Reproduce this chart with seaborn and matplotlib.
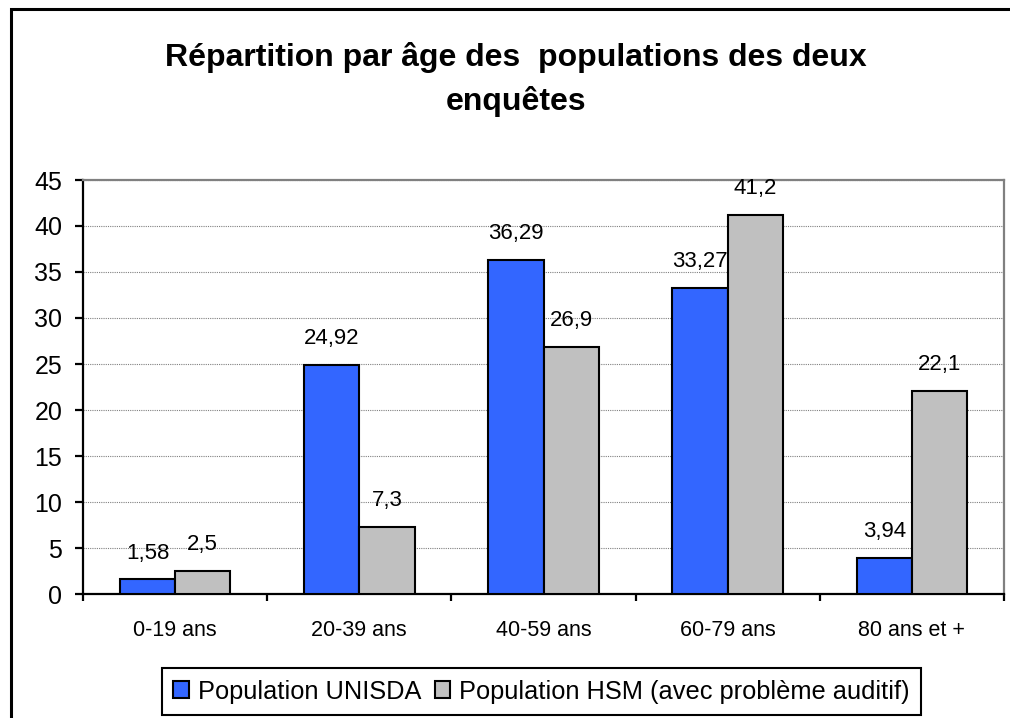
import matplotlib
matplotlib.use("Agg")
import matplotlib.pyplot as plt
import seaborn as sns
import pandas as pd
from matplotlib.patches import Rectangle
from matplotlib.ticker import FixedLocator

categories = ["0-19 ans", "20-39 ans", "40-59 ans", "60-79 ans", "80 ans et +"]
unisda = [1.58, 24.92, 36.29, 33.27, 3.94]
hsm = [2.5, 7.3, 26.9, 41.2, 22.1]
series_names = ["Population UNISDA", "Population HSM (avec problème auditif)"]
title = "Répartition par âge des  populations des deux\nenquêtes"

df = pd.DataFrame({
    "Age": categories * 2,
    "Valeur": unisda + hsm,
    "Population": [series_names[0]] * len(categories) + [series_names[1]] * len(categories),
})

sns.set_theme(style="white")
plt.rcParams["font.family"] = ["Liberation Sans", "DejaVu Sans"]
plt.rcParams["text.color"] = "black"
plt.rcParams["xtick.color"] = "black"
plt.rcParams["ytick.color"] = "black"
plt.rcParams["axes.labelcolor"] = "black"

fig = plt.figure(figsize=(10.10, 7.18), dpi=100)
ax = fig.add_axes([83 / 1010, (718 - 594) / 718, (1004 - 83) / 1010, (594 - 180) / 718])

sns.barplot(data=df, x="Age", y="Valeur", hue="Population",
            palette=["#3366FF", "#C0C0C0"], saturation=1, width=0.6,
            edgecolor="black", linewidth=1.5, ax=ax, zorder=3)

ax.set_xlim(-0.5, len(categories) - 0.5)
ax.set_ylim(0, 45)
ax.set_yticks(range(0, 46, 5))
ax.set_xlabel("")
ax.set_ylabel("")

ax.yaxis.grid(True, color="#808080", linestyle=(0, (1, 1)), linewidth=0.8, zorder=0)
ax.set_axisbelow(True)

for side in ["left", "bottom"]:
    ax.spines[side].set_color("black")
    ax.spines[side].set_linewidth(1.6)
for side in ["top", "right"]:
    ax.spines[side].set_color("#808080")
    ax.spines[side].set_linewidth(1.6)

ax.tick_params(axis="y", which="major", direction="out", length=6, width=1.6,
               color="black", labelcolor="black", labelsize=18, pad=9, left=True)
ax.tick_params(axis="x", which="major", length=0, labelsize=15.5, labelcolor="black", pad=19)
ax.xaxis.set_minor_locator(FixedLocator([i - 0.5 for i in range(len(categories) + 1)]))
ax.tick_params(axis="x", which="minor", direction="out", length=5, width=1.6,
               color="black", bottom=True)

for container, values in zip(ax.containers, [unisda, hsm]):
    for bar, v in zip(container, values):
        lbl = f"{v:g}".replace(".", ",")
        ax.annotate(lbl, (bar.get_x() + bar.get_width() / 2, bar.get_height()),
                    xytext=(0, 19), textcoords="offset points",
                    ha="center", va="center", fontsize=16, color="black")

handles, labels = ax.get_legend_handles_labels()
ax.legend(handles, labels, loc="center", bbox_to_anchor=(541.5 / 1010, (718 - 691.5) / 718),
          bbox_transform=fig.transFigure, ncol=2, fontsize=18.3, frameon=True,
          fancybox=False, edgecolor="black", framealpha=1, handlelength=0.6,
          handleheight=0.6, handletextpad=0.35, columnspacing=0.55,
          borderpad=0.45, borderaxespad=0, labelcolor="black")
leg = ax.get_legend()
leg.get_frame().set_linewidth(1.5)

fig.text(516 / 1010, 1 - 79.5 / 718, title, ha="center", va="center", color="black",
         fontsize=23, fontweight="bold", linespacing=1.52)

fig.patches.append(Rectangle((11 / 1010, -0.2), 1.2, 0.2 + 1 - 9 / 718,
                             transform=fig.transFigure, fill=False,
                             edgecolor="black", linewidth=2.2, clip_on=False))

fig.savefig("out.png", dpi=100)
